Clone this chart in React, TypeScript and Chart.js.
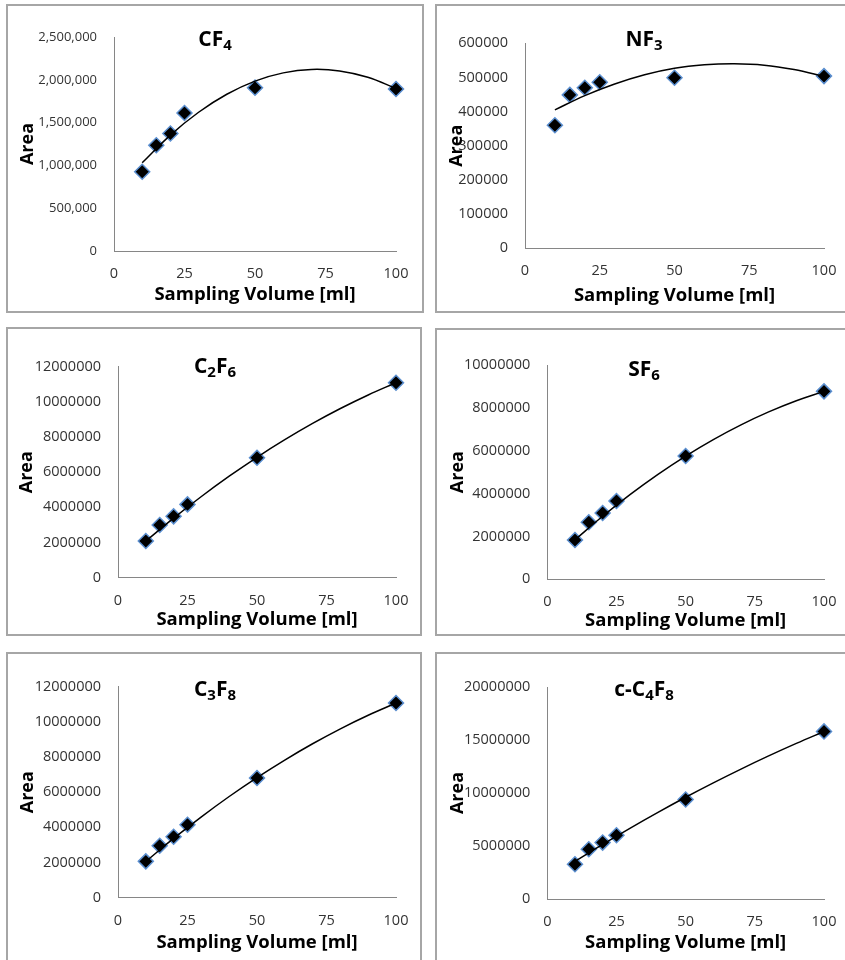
import React, { useEffect, useRef } from "react";
import { Chart, registerables } from "chart.js";
Chart.register(...registerables);

// ---------- data ----------
const volumes = [10, 15, 20, 25, 50, 100];
const trendX = [10, 20, 30, 40, 50, 60, 70, 80, 90, 100];
const xTickValues = [0, 25, 50, 75, 100];

const cf4Area = [926000, 1236000, 1372000, 1612000, 1908000, 1893000];
const cf4Trend = [1030000, 1354000, 1621000, 1831000, 1985000, 2081000, 2121000, 2104000, 2030000, 1899000];

const nf3Area = [360000, 449000, 470000, 486000, 499000, 504000];
const nf3Trend = [405000, 447000, 481000, 508000, 527000, 537000, 540000, 536000, 523000, 503000];

const c2f6Area = [2085000, 2995000, 3490000, 4170000, 6825000, 11090000];
const c2f6Trend = [2080000, 3387000, 4617000, 5771000, 6850000, 7849000, 8773000, 9621000, 10392000, 11090000];

const sf6Area = [1835000, 2660000, 3095000, 3655000, 5755000, 8770000];
const sf6Trend = [1840000, 2942000, 3961000, 4897000, 5750000, 6520000, 7207000, 7811000, 8332000, 8770000];

const c3f8Area = [2066000, 2957000, 3469000, 4152000, 6806000, 11070000];
const c3f8Trend = [2060000, 3370000, 4600000, 5755000, 6830000, 7830000, 8755000, 9605000, 10375000, 11070000];

const cc4f8Area = [3276000, 4693000, 5323000, 6016000, 9386000, 15810000];
const cc4f8Trend = [3550000, 5153000, 6695000, 8177000, 9600000, 10959000, 12259000, 13499000, 14678000, 15800000];

const xAxisTitle = "Sampling Volume [ml]";
const yAxisTitle = "Area";

// ---------- panel layout ----------
type Seg = [string, boolean];
interface Panel {
  title: Seg[];
  area: number[];
  trend: number[];
  yMax: number;
  yStep: number;
  commas: boolean;
  tickSize: number;
  box: { l: number; t: number; w: number; h: number };
  plot: { l: number; t: number; r: number; b: number };
  titleCx: number;
  titleBase: number;
  areaX: number;
  xTitleY: number;
}

const panels: Panel[] = [
  {
    title: [["CF", false], ["4", true]],
    area: cf4Area, trend: cf4Trend, yMax: 2500000, yStep: 500000, commas: true, tickSize: 13,
    box: { l: 7, t: 5, w: 418, h: 309 },
    plot: { l: 114, t: 37, r: 396, b: 251 },
    titleCx: 215, titleBase: 46, areaX: 28, xTitleY: 295,
  },
  {
    title: [["NF", false], ["3", true]],
    area: nf3Area, trend: nf3Trend, yMax: 600000, yStep: 100000, commas: false, tickSize: 14.5,
    box: { l: 436, t: 5, w: 418, h: 309 },
    plot: { l: 525, t: 43.3, r: 824, b: 248.3 },
    titleCx: 644, titleBase: 46, areaX: 457, xTitleY: 296,
  },
  {
    title: [["C", false], ["2", true], ["F", false], ["6", true]],
    area: c2f6Area, trend: c2f6Trend, yMax: 12000000, yStep: 2000000, commas: false, tickSize: 14.5,
    box: { l: 7, t: 328, w: 416, h: 309 },
    plot: { l: 118, t: 366.7, r: 396, b: 577.7 },
    titleCx: 215, titleBase: 373, areaX: 27, xTitleY: 620,
  },
  {
    title: [["SF", false], ["6", true]],
    area: sf6Area, trend: sf6Trend, yMax: 10000000, yStep: 2000000, commas: false, tickSize: 14.5,
    box: { l: 436, t: 329, w: 418, h: 308 },
    plot: { l: 547.3, t: 365, r: 824, b: 579.3 },
    titleCx: 644, titleBase: 376, areaX: 458, xTitleY: 621,
  },
  {
    title: [["C", false], ["3", true], ["F", false], ["8", true]],
    area: c3f8Area, trend: c3f8Trend, yMax: 12000000, yStep: 2000000, commas: false, tickSize: 14.5,
    box: { l: 7, t: 653, w: 416, h: 320 },
    plot: { l: 118, t: 686.7, r: 396, b: 897.7 },
    titleCx: 215, titleBase: 696, areaX: 28, xTitleY: 943,
  },
  {
    title: [["c-C", false], ["4", true], ["F", false], ["8", true]],
    area: cc4f8Area, trend: cc4f8Trend, yMax: 20000000, yStep: 5000000, commas: false, tickSize: 14.5,
    box: { l: 436, t: 653, w: 418, h: 320 },
    plot: { l: 547.3, t: 687, r: 824, b: 899 },
    titleCx: 644, titleBase: 696, areaX: 458, xTitleY: 943,
  },
];

const FONT = "'Open Sans', 'Noto Sans', sans-serif";

function ChartPanel({ p }: { p: Panel }) {
  const ref = useRef<HTMLCanvasElement | null>(null);
  useEffect(() => {
    const canvas = ref.current;
    if (!canvas) return;
    const { box, plot } = p;
    const textPlugin = {
      id: "panelText",
      afterDraw(chart: any) {
        const ctx = chart.ctx;
        const ca = chart.chartArea;
        ctx.save();
        ctx.fillStyle = "#000";
        // chart title with subscripts
        const mainFont = `bold 21px ${FONT}`;
        const subFont = `bold 15px ${FONT}`;
        let total = 0;
        for (const [t, sub] of p.title) {
          ctx.font = sub ? subFont : mainFont;
          total += ctx.measureText(t).width;
        }
        let x = p.titleCx - box.l - total / 2;
        const base = p.titleBase - box.t;
        ctx.textBaseline = "alphabetic";
        ctx.textAlign = "left";
        for (const [t, sub] of p.title) {
          ctx.font = sub ? subFont : mainFont;
          ctx.fillText(t, x, sub ? base + 4 : base);
          x += ctx.measureText(t).width;
        }
        // x axis title
        ctx.font = `bold 18.5px ${FONT}`;
        ctx.textAlign = "center";
        ctx.textBaseline = "middle";
        ctx.fillText(xAxisTitle, (ca.left + ca.right) / 2, p.xTitleY - box.t);
        // y axis title
        ctx.font = `bold 18px ${FONT}`;
        ctx.translate(p.areaX - box.l, (ca.top + ca.bottom) / 2);
        ctx.rotate(-Math.PI / 2);
        ctx.fillText(yAxisTitle, 0, 0);
        ctx.restore();
      },
    };

    const chart = new Chart(canvas, {
      type: "scatter",
      data: {
        datasets: [
          {
            label: "trend",
            data: trendX.map((v, i) => ({ x: v, y: p.trend[i] })),
            showLine: true,
            borderColor: "#000",
            borderWidth: 1.5,
            pointRadius: 0,
            tension: 0.4,
            fill: false,
            clip: false,
            order: 0,
          },
          {
            label: "Area",
            data: volumes.map((v, i) => ({ x: v, y: p.area[i] })),
            showLine: false,
            pointStyle: "rectRot",
            pointRadius: 7.5,
            pointBackgroundColor: "#000",
            pointBorderColor: "#5b8fd0",
            pointBorderWidth: 1.5,
            clip: false,
            order: 1,
          },
        ],
      },
      options: {
        responsive: false,
        animation: false,
        events: [],
        layout: {
          padding: {
            left: 0,
            bottom: 0,
            top: plot.t - box.t,
            right: box.l + box.w - plot.r,
          },
        },
        plugins: {
          legend: { display: false },
          tooltip: { enabled: false },
          title: { display: false },
        },
        scales: {
          x: {
            type: "linear",
            min: 0,
            max: 100,
            afterBuildTicks: (scale: any) => {
              scale.ticks = xTickValues.map((v) => ({ value: v }));
            },
            afterFit: (scale: any) => {
              scale.height = box.t + box.h - plot.b;
            },
            grid: { display: false, drawTicks: false },
            border: { display: true, color: "#868686", width: 1 },
            ticks: {
              padding: 14,
              color: "#333333",
              font: { family: FONT, size: 14.5 },
              maxRotation: 0,
              autoSkip: false,
              callback: (v: any) => String(v),
            },
          },
          y: {
            type: "linear",
            min: 0,
            max: p.yMax,
            afterFit: (scale: any) => {
              scale.width = plot.l - box.l;
            },
            grid: { display: false, drawTicks: false },
            border: { display: true, color: "#868686", width: 1 },
            ticks: {
              stepSize: p.yStep,
              padding: 17,
              color: "#333333",
              font: { family: FONT, size: p.tickSize },
              autoSkip: false,
              callback: (v: any) =>
                p.commas ? Number(v).toLocaleString("en-US") : String(v),
            },
          },
        },
      },
      plugins: [textPlugin],
    } as any);
    return () => chart.destroy();
  }, [p]);

  const { box } = p;
  return (
    <>
      <canvas
        ref={ref}
        width={box.w}
        height={box.h}
        style={{ position: "absolute", left: box.l, top: box.t, width: box.w, height: box.h }}
      />
      <div
        style={{
          position: "absolute",
          left: box.l - 1,
          top: box.t - 1,
          width: box.w,
          height: box.h,
          border: "2px solid #a6a6a6",
          boxSizing: "border-box",
          pointerEvents: "none",
        }}
      />
    </>
  );
}

export default function App() {
  return (
    <div
      style={{
        position: "absolute",
        left: 0,
        top: 0,
        width: 845,
        height: 960,
        overflow: "hidden",
        background: "#fff",
      }}
    >
      {panels.map((p, i) => (
        <ChartPanel key={i} p={p} />
      ))}
    </div>
  );
}
